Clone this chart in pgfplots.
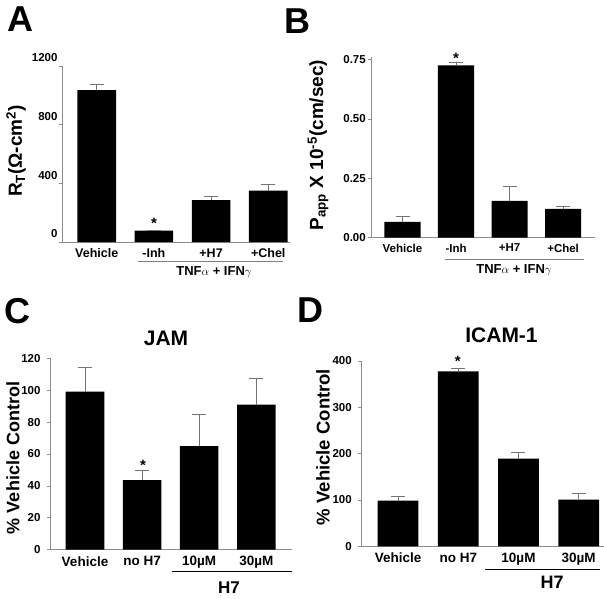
\documentclass[border=0pt]{standalone}
\usepackage{pgfplots}
\pgfplotsset{compat=1.18}
\usepackage{fontspec}
\setmainfont{Liberation Sans}

\pgfplotstableread{
x y e
0 1036 39
1 77 0
2 286 23
3 350 43
}\dataA
\pgfplotstableread{
x y e
0 0.066 0.022
1 0.726 0.014
2 0.154 0.061
3 0.121 0.011
}\dataB
\pgfplotstableread{
x y e
0 99.1 15.3
1 43.7 6.1
2 65.0 19.9
3 90.9 16.4
}\dataC
\pgfplotstableread{
x y e
0 98.6 8.6
1 377.7 7.2
2 189.2 14.4
3 100.7 13.0
}\dataD

\pgfplotsset{
  panel/.style={
    scale only axis, anchor=south west, ybar,
    axis x line*=bottom, axis y line*=left,
    axis line style={-, draw=black!45, line width=0.7pt},
    xtick={0,1,2,3},
    major x tick style={draw=none},
    tick align=outside,
    major tick length=3pt,
    y tick style={draw=black!45, line width=0.7pt},
    y tick label style={font=\fontsize{11.5}{13}\selectfont\bfseries},
    x tick label style={font=\fontsize{12.5}{14}\selectfont\bfseries},
    /pgf/number format/assume math mode=true,
    clip=false,
  },
  barsty/.style={fill=black, draw=none, bar width=0.675,
    error bars/.cd, y dir=plus, y explicit,
    error bar style={draw=black!55, line width=0.7pt},
    error mark options={draw=black!55, line width=0.7pt, mark size=7pt, rotate=90}
  }
}

\begin{document}
\begin{tikzpicture}[x=1pt,y=1pt]
\useasboundingbox (0,0) rectangle (604,598);

% ---------- A ----------
\begin{axis}[panel, at={(62pt,356pt)}, width=228pt, height=176pt,
  xmin=-0.607, xmax=3.38, ymin=0, ymax=1200,
  ytick={0,400,800,1200}, yticklabels={0,400,800,1200},
  y tick label style={yshift=8pt, xshift=2pt},
  xticklabels={Vehicle,-Inh,+H7,+Chel}]
\addplot[barsty] table[x=x,y=y,y error=e] {\dataA};
\end{axis}
\node[font=\fontsize{19}{22}\selectfont\bfseries, rotate=90] at (16,447) {R\textsubscript{T}(Ω-cm\textsuperscript{2})};
\draw[black!50, line width=0.7pt] (138,336.3) -- (283,336.3);
\node[font=\fontsize{13}{15}\selectfont\bfseries] at (214,326) {TNF\(\alpha\) + IFN\(\gamma\)};
\node[font=\fontsize{15}{17}\selectfont\bfseries, anchor=base] at (154,369.5) {*};
\node[font=\fontsize{36}{40}\selectfont\bfseries] at (20.5,579) {A};

% ---------- B ----------
\begin{axis}[panel, at={(371.3pt,360.5pt)}, width=223.4pt, height=180.3pt,
  xmin=-0.583, xmax=3.59, ymin=0, ymax=0.76,
  ytick={0,0.25,0.5,0.75}, yticklabels={0.00,0.25,0.50,0.75},
  y tick label style={xshift=1pt},
  x tick label style={font=\fontsize{11.5}{14}\selectfont\bfseries},
  xticklabels={Vehicle,-Inh,+H7,+Chel}]
\addplot[barsty] table[x=x,y=y,y error=e] {\dataB};
\end{axis}
\node[font=\fontsize{19}{22}\selectfont\bfseries, rotate=90] at (318,453) {P\textsubscript{app} X 10\textsuperscript{-5}(cm/sec)};
\draw[black!50, line width=0.7pt] (445.3,338.7) -- (583.7,338.7);
\node[font=\fontsize{13}{15}\selectfont\bfseries] at (514,328) {TNF\(\alpha\) + IFN\(\gamma\)};
\node[font=\fontsize{15}{17}\selectfont\bfseries, anchor=base] at (456,534) {*};
\node[font=\fontsize{36}{40}\selectfont\bfseries] at (297,577) {B};

% ---------- C ----------
\begin{axis}[panel, at={(50pt,48.3pt)}, width=241.7pt, height=191.4pt,
  xmin=-0.613, xmax=3.62, ymin=0, ymax=120,
  ytick={0,20,40,60,80,100,120}, yticklabels={0,20,40,60,80,100,120},
  y tick label style={xshift=-3pt},
  x tick label style={font=\fontsize{13.5}{15}\selectfont\bfseries},
  xticklabels={Vehicle,no H7,10µM,30µM}]
\addplot[barsty] table[x=x,y=y,y error=e] {\dataC};
\end{axis}
\node[font=\fontsize{18}{21}\selectfont\bfseries, rotate=90] at (13,140) {\% Vehicle Control};
\draw[black, line width=1.5pt] (171.7,26.3) -- (291.7,26.3);
\node[font=\fontsize{17}{20}\selectfont\bfseries] at (229,10) {H7};
\node[font=\fontsize{21}{24}\selectfont\bfseries] at (166,259.5) {JAM};
\node[font=\fontsize{15}{17}\selectfont\bfseries, anchor=base] at (143,128) {*};
\node[font=\fontsize{36}{40}\selectfont\bfseries] at (17,287) {C};

% ---------- D ----------
\begin{axis}[panel, at={(361.3pt,51.7pt)}, width=242.4pt, height=185.3pt,
  xmin=-0.61, xmax=3.415, ymin=0, ymax=400,
  ytick={0,100,200,300,400}, yticklabels={0,100,200,300,400},
  y tick label style={xshift=-3pt},
  x tick label style={font=\fontsize{13.5}{15}\selectfont\bfseries},
  xticklabels={Vehicle,no H7,10µM,30µM}]
\addplot[barsty] table[x=x,y=y,y error=e] {\dataD};
\end{axis}
\node[font=\fontsize{18.5}{22}\selectfont\bfseries, rotate=90] at (323,151) {\% Vehicle Control};
\draw[black, line width=1.5pt] (485,28.3) -- (600,28.3);
\node[font=\fontsize{18}{21}\selectfont\bfseries] at (552,16) {H7};
\node[font=\fontsize{21}{24}\selectfont\bfseries] at (501.5,263) {ICAM-1};
\node[font=\fontsize{15}{17}\selectfont\bfseries, anchor=base] at (457.7,232) {*};
\node[font=\fontsize{36}{40}\selectfont\bfseries] at (310,288) {D};

\end{tikzpicture}
\end{document}
